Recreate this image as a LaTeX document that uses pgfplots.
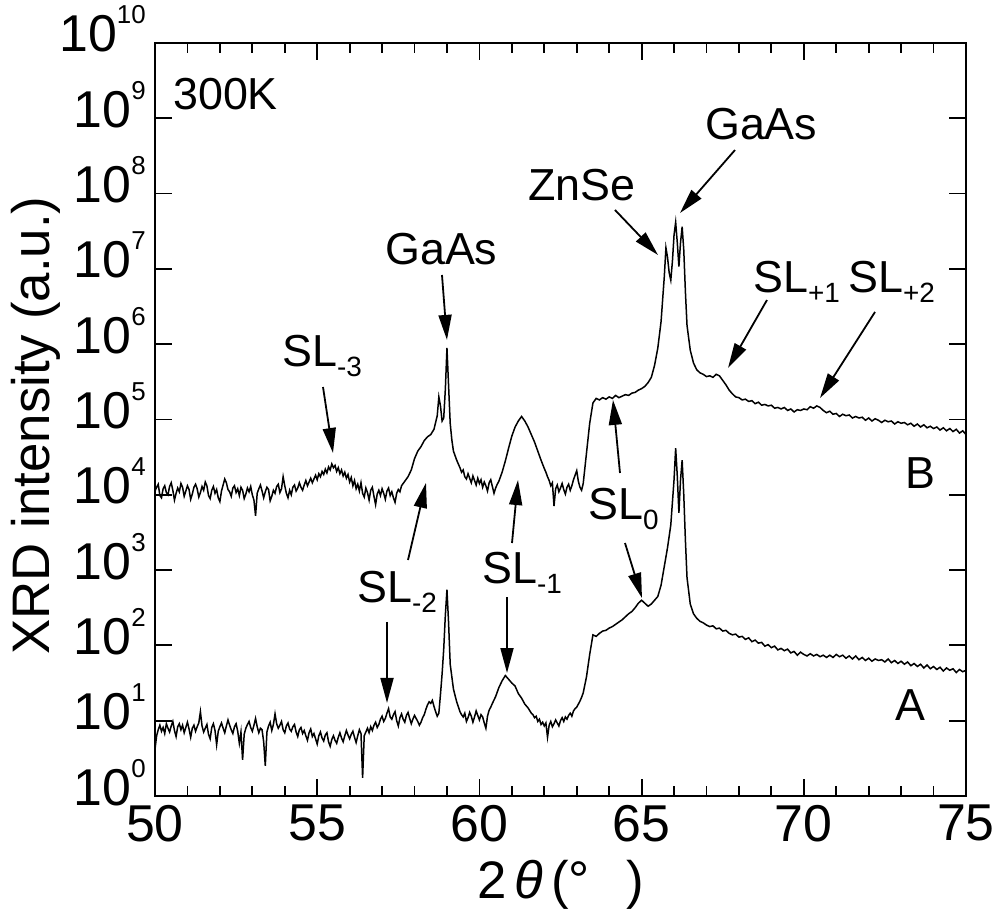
\documentclass[border=0pt]{standalone}
\usepackage{fontspec}
\setmainfont{Liberation Sans}
\usepackage{pgfplots}
\pgfplotsset{compat=1.18}
\usepackage{pgfplotstable}
\usetikzlibrary{arrows.meta}
\newcommand\tl[1]{10\raisebox{28bp}{\fontsize{26}{26}\selectfont #1}}
\newcommand\sub[1]{\raisebox{-10bp}{\fontsize{28}{28}\selectfont #1}}
\pgfplotstableread{
x l
50.00 4.05
50.05 4.10
50.10 4.14
50.15 3.99
50.20 3.96
50.25 4.08
50.30 4.12
50.35 4.03
50.40 4.00
50.45 4.11
50.50 4.16
50.55 4.06
50.60 3.93
50.65 4.02
50.70 4.09
50.75 4.04
50.80 4.15
50.85 4.10
50.90 3.98
50.95 4.05
51.00 4.12
51.05 4.07
51.10 3.94
51.15 4.01
51.20 4.10
51.25 4.14
51.30 4.08
51.35 3.97
51.40 4.03
51.45 4.11
51.50 4.06
51.55 4.17
51.60 4.12
51.65 3.99
51.70 3.95
51.75 4.06
51.80 4.11
51.85 4.02
51.90 4.07
51.95 3.96
52.00 3.91
52.05 4.05
52.10 4.13
52.15 4.21
52.20 4.16
52.25 4.07
52.30 4.04
52.35 3.98
52.40 4.09
52.45 4.12
52.50 4.03
52.55 4.08
52.60 3.99
52.65 4.10
52.70 4.06
52.75 3.95
52.80 4.01
52.85 4.09
52.90 4.04
52.95 4.11
53.00 4.00
53.05 3.93
53.10 3.72
53.15 4.02
53.20 4.08
53.25 4.13
53.30 4.05
53.35 3.96
53.40 4.04
53.45 4.10
53.50 4.07
53.55 3.92
53.60 3.98
53.65 4.06
53.70 4.02
53.75 4.11
53.80 4.14
53.85 4.03
53.90 4.08
53.95 4.24
54.00 4.12
54.05 4.02
54.10 3.96
54.15 4.06
54.20 4.00
54.25 4.10
54.30 4.13
54.35 4.05
54.40 4.09
54.45 4.16
54.50 4.10
54.55 4.06
54.60 4.13
54.65 4.19
54.70 4.12
54.75 4.17
54.80 4.22
54.85 4.16
54.90 4.21
54.95 4.26
55.00 4.20
55.05 4.28
55.10 4.24
55.15 4.31
55.20 4.27
55.25 4.34
55.30 4.29
55.35 4.37
55.40 4.33
55.45 4.41
55.50 4.36
55.55 4.39
55.60 4.31
55.65 4.36
55.70 4.28
55.75 4.33
55.80 4.25
55.85 4.30
55.90 4.22
55.95 4.27
56.00 4.17
56.05 4.23
56.10 4.12
56.15 4.19
56.20 4.08
56.25 4.14
56.30 4.05
56.35 4.16
56.40 4.02
56.45 3.97
56.50 4.09
56.55 4.03
56.60 3.93
56.65 4.06
56.70 4.10
56.75 3.98
56.80 3.87
56.85 4.01
56.90 4.06
56.95 3.99
57.00 4.08
57.05 4.02
57.10 3.94
57.15 4.05
57.20 4.09
57.25 3.99
57.30 4.04
57.35 3.96
57.40 3.90
57.45 4.02
57.50 4.07
57.55 4.04
57.60 4.12
57.7 4.18
57.8 4.24
57.9 4.33
58.0 4.48
58.1 4.58
58.2 4.64
58.3 4.72
58.4 4.77
58.5 4.80
58.6 4.87
58.7 5.05
58.75 5.30
58.8 5.18
58.85 4.98
58.9 5.02
58.95 5.40
59.0 5.95
59.05 5.45
59.1 4.95
59.15 4.73
59.2 4.58
59.3 4.46
59.40 4.36
59.45 4.30
59.50 4.33
59.55 4.24
59.60 4.21
59.65 4.28
59.70 4.22
59.75 4.16
59.80 4.25
59.85 4.19
59.90 4.13
59.95 4.22
60.00 4.15
60.05 4.20
60.10 4.10
60.15 4.17
60.20 4.12
60.25 4.05
60.30 4.16
60.35 4.20
60.40 4.11
60.45 4.02
60.50 4.09
60.55 4.14
60.60 4.18
60.7 4.30
60.8 4.45
60.9 4.62
61.0 4.78
61.1 4.90
61.2 4.98
61.3 5.04
61.4 4.98
61.5 4.90
61.6 4.80
61.7 4.70
61.8 4.58
61.9 4.46
62.00 4.35
62.05 4.30
62.10 4.24
62.15 4.19
62.20 4.12
62.25 4.16
62.30 3.85
62.35 4.08
62.40 4.13
62.45 4.04
62.50 4.09
62.55 4.15
62.60 4.07
62.65 4.01
62.70 4.10
62.75 4.14
62.80 4.06
62.85 4.12
62.90 4.20
62.95 4.26
63.00 4.32
63.05 4.18
63.10 4.10
63.15 4.06
63.20 4.15
63.3 4.55
63.4 4.95
63.5 5.22
63.6 5.28
63.7 5.26
63.8 5.29
63.9 5.27
64.0 5.30
64.1 5.28
64.2 5.32
64.3 5.29
64.4 5.31
64.5 5.33
64.6 5.32
64.7 5.35
64.8 5.36
64.9 5.39
65.0 5.41
65.1 5.44
65.2 5.49
65.3 5.56
65.4 5.72
65.5 5.95
65.6 6.30
65.7 6.90
65.75 7.28
65.8 7.15
65.85 6.95
65.9 6.85
65.95 7.10
66.0 7.45
66.05 7.62
66.1 7.35
66.15 7.03
66.2 7.35
66.25 7.56
66.3 7.25
66.35 6.70
66.4 6.25
66.5 5.92
66.6 5.75
66.7 5.66
66.8 5.62
66.9 5.60
67.0 5.57
67.1 5.58
67.2 5.56
67.3 5.60
67.4 5.58
67.5 5.52
67.6 5.46
67.7 5.39
67.8 5.34
67.9 5.30
68.0 5.29
68.1 5.26
68.2 5.27
68.3 5.24
68.4 5.25
68.5 5.21
68.6 5.23
68.7 5.19
68.8 5.20
68.9 5.18
69.0 5.19
69.1 5.15
69.2 5.16
69.3 5.14
69.4 5.16
69.5 5.12
69.6 5.14
69.7 5.10
69.8 5.13
69.9 5.12
70.0 5.14
70.1 5.13
70.2 5.17
70.3 5.15
70.4 5.18
70.5 5.16
70.6 5.12
70.7 5.09
70.8 5.11
70.9 5.07
71.0 5.08
71.1 5.04
71.2 5.07
71.3 5.05
71.4 5.06
71.5 5.02
71.6 5.04
71.7 5.02
71.8 5.03
71.9 4.99
72.0 5.02
72.1 4.98
72.2 5.01
72.3 4.99
72.4 4.96
72.5 4.99
72.6 4.97
72.7 4.98
72.8 4.94
72.9 4.97
73.0 4.95
73.1 4.96
73.2 4.93
73.3 4.95
73.4 4.91
73.5 4.94
73.6 4.90
73.7 4.93
73.8 4.89
73.9 4.91
74.0 4.88
74.1 4.90
74.2 4.86
74.3 4.89
74.4 4.85
74.5 4.88
74.6 4.84
74.7 4.87
74.8 4.82
74.9 4.85
75.0 4.80
}\dataB
\pgfplotstableread{
x l
50.00 0.62
50.05 0.80
50.10 0.88
50.15 0.94
50.20 0.86
50.25 0.91
50.30 0.83
50.35 0.96
50.40 0.90
50.45 0.85
50.50 0.93
50.55 0.99
50.60 0.87
50.65 0.79
50.70 0.92
50.75 0.96
50.80 0.88
50.85 0.94
50.90 0.84
50.95 0.91
51.00 0.98
51.05 0.89
51.10 0.78
51.15 0.90
51.20 0.94
51.25 0.86
51.30 0.92
51.35 0.97
51.40 1.12
51.45 0.93
51.50 0.85
51.55 0.90
51.60 0.95
51.65 0.82
51.70 0.76
51.75 0.91
51.80 0.96
51.85 0.87
51.90 0.68
51.95 0.86
52.00 0.92
52.05 0.97
52.10 0.90
52.15 0.84
52.20 0.93
52.25 1.01
52.30 0.94
52.35 0.88
52.40 0.83
52.45 0.92
52.50 0.96
52.55 0.86
52.60 0.70
52.65 0.85
52.70 0.48
52.75 0.82
52.80 0.90
52.85 0.95
52.90 0.99
52.95 0.91
53.00 0.86
53.05 0.94
53.10 1.03
53.15 0.92
53.20 0.84
53.25 0.90
53.30 0.88
53.35 0.72
53.40 0.40
53.45 0.85
53.50 0.93
53.55 0.98
53.60 0.87
53.65 0.95
53.70 1.09
53.75 0.96
53.80 0.90
53.85 0.94
53.90 0.99
53.95 0.88
54.00 0.84
54.05 0.93
54.10 0.97
54.15 0.89
54.20 0.86
54.25 0.92
54.30 0.95
54.35 0.85
54.40 0.79
54.45 0.88
54.50 0.91
54.55 0.83
54.60 0.87
54.65 0.80
54.70 0.74
54.75 0.84
54.80 0.89
54.85 0.79
54.90 0.83
54.95 0.76
55.00 0.69
55.05 0.80
55.10 0.85
55.15 0.77
55.20 0.73
55.25 0.81
55.30 0.84
55.35 0.72
55.40 0.66
55.45 0.75
55.50 0.80
55.55 0.74
55.60 0.70
55.65 0.78
55.70 0.84
55.75 0.77
55.80 0.72
55.85 0.80
55.90 0.87
55.95 0.81
56.00 0.76
56.05 0.82
56.10 0.86
56.15 0.78
56.20 0.71
56.25 0.80
56.30 0.88
56.35 0.83
56.40 0.24
56.45 0.80
56.50 0.85
56.55 0.90
56.60 0.84
56.65 0.92
56.70 0.87
56.75 0.94
56.80 0.98
56.85 0.91
56.90 0.95
56.95 1.02
57.00 1.06
57.05 0.99
57.10 1.03
57.15 1.10
57.20 1.16
57.25 1.05
57.30 1.02
57.35 1.08
57.40 1.12
57.45 1.00
57.50 0.93
57.55 1.04
57.60 1.09
57.65 1.02
57.70 0.98
57.75 1.07
57.80 1.11
57.85 1.03
57.90 0.96
57.95 1.02
58.00 1.07
58.05 1.03
58.10 0.99
58.15 0.94
58.20 0.98
58.25 1.04
58.30 1.08
58.35 1.15
58.40 1.21
58.45 1.25
58.50 1.23
58.55 1.27
58.60 1.19
58.65 1.12
58.70 1.06
58.75 1.10
58.80 1.35
58.85 1.62
58.90 1.95
58.95 2.40
59.00 2.74
59.05 2.30
59.10 1.75
59.20 1.42
59.30 1.25
59.40 1.12
59.45 1.08
59.50 1.05
59.55 1.10
59.60 0.99
59.65 1.04
59.70 1.11
59.75 1.06
59.80 0.98
59.85 1.05
59.90 1.13
59.95 1.07
60.00 1.01
60.05 1.08
60.10 1.05
60.15 0.97
60.20 0.90
60.25 1.06
60.30 1.14
60.35 1.18
60.40 1.23
60.5 1.32
60.6 1.44
60.7 1.53
60.8 1.60
60.9 1.55
61.0 1.50
61.1 1.46
61.2 1.36
61.3 1.30
61.4 1.22
61.5 1.17
61.60 1.10
61.65 1.08
61.70 1.04
61.75 1.06
61.80 0.99
61.85 1.02
61.90 0.95
61.95 0.98
62.00 0.93
62.05 0.97
62.10 0.78
62.15 0.94
62.20 0.99
62.25 0.92
62.30 0.96
62.35 1.01
62.40 0.97
62.45 0.93
62.50 1.00
62.55 1.04
62.60 0.99
62.65 1.05
62.70 1.02
62.75 1.07
62.80 1.10
62.85 1.06
62.90 1.13
62.95 1.16
63.00 1.18
63.05 1.22
63.10 1.26
63.15 1.31
63.20 1.37
63.3 1.58
63.4 1.88
63.5 2.14
63.6 2.12
63.7 2.16
63.8 2.19
63.9 2.20
64.0 2.23
64.1 2.25
64.2 2.28
64.3 2.31
64.4 2.34
64.5 2.38
64.6 2.42
64.7 2.45
64.8 2.50
64.9 2.56
65.0 2.60
65.1 2.56
65.2 2.52
65.3 2.55
65.4 2.60
65.5 2.65
65.6 2.80
65.7 3.05
65.8 3.30
65.9 3.60
66.0 4.20
66.05 4.62
66.1 4.25
66.15 3.76
66.2 4.20
66.25 4.46
66.3 4.00
66.35 3.40
66.4 2.90
66.5 2.55
66.6 2.42
66.7 2.36
66.8 2.32
66.9 2.30
67.0 2.27
67.1 2.25
67.2 2.26
67.3 2.22
67.4 2.23
67.5 2.19
67.6 2.20
67.7 2.16
67.8 2.14
67.9 2.15
68.0 2.11
68.1 2.12
68.2 2.08
68.3 2.10
68.4 2.05
68.5 2.07
68.6 2.03
68.7 2.04
68.8 1.99
68.9 2.01
69.0 1.97
69.1 1.99
69.2 1.94
69.3 1.96
69.4 1.93
69.5 1.95
69.6 1.90
69.7 1.92
69.8 1.87
69.9 1.91
70.0 1.88
70.1 1.86
70.2 1.89
70.3 1.86
70.4 1.88
70.5 1.85
70.6 1.87
70.7 1.84
70.8 1.87
70.9 1.84
71.0 1.88
71.1 1.85
71.2 1.87
71.3 1.83
71.4 1.86
71.5 1.82
71.6 1.86
71.7 1.81
71.8 1.84
71.9 1.80
72.0 1.83
72.1 1.79
72.2 1.82
72.3 1.80
72.4 1.81
72.5 1.78
72.6 1.82
72.7 1.77
72.8 1.80
72.9 1.76
73.0 1.79
73.1 1.75
73.2 1.78
73.3 1.73
73.4 1.76
73.5 1.72
73.6 1.75
73.7 1.70
73.8 1.74
73.9 1.69
74.0 1.72
74.1 1.68
74.2 1.71
74.3 1.66
74.4 1.70
74.5 1.67
74.6 1.69
74.7 1.64
74.8 1.68
74.9 1.65
75.0 1.67
}\dataA
\begin{document}
\begin{tikzpicture}[
  arr/.style={line width=1.8bp, -{Triangle[length=25bp,width=13bp]}},
  lab/.style={inner sep=0pt, anchor=base west, font=\fontsize{45}{45}\selectfont}]
\begin{axis}[
  width=811bp, height=753bp, scale only axis,
  xmin=50, xmax=75, ymode=log, ymin=1, ymax=1e10,
  xtick={50,55,60,65,70,75}, xticklabels={50,55,60,65,70,75},
  minor x tick num=4,
  ytick={1,1e1,1e2,1e3,1e4,1e5,1e6,1e7,1e8,1e9,1e10},
  yticklabels={\tl{0},\tl{1},\tl{2},\tl{3},\tl{4},\tl{5},\tl{6},\tl{7},\tl{8},\tl{9},\tl{10}},
  yminorticks=false,
  tick align=inside,
  major tick length=17bp, minor tick length=10bp,
  every tick/.append style={line width=1.8bp, black},
  axis line style={line width=2bp},
  xticklabel style={font=\fontsize{52}{52}\selectfont, inner sep=0pt, anchor=north, yshift=-9bp},
  yticklabel style={font=\fontsize{52}{52}\selectfont, inner sep=0pt, anchor=base east, xshift=-9bp, yshift=-9bp},
  xlabel={2\hspace{8bp}{\itshape θ}\hspace{8bp}(°\hspace{36bp})},
  xlabel style={font=\fontsize{53}{53}\selectfont, at={(axis description cs:0.5,0)}, anchor=base, inner sep=0pt, yshift=-102bp},
  ylabel={XRD intensity (a.u.)},
  ylabel style={font=\fontsize{53}{53}\selectfont, at={(axis description cs:0,0.5)}, anchor=base, inner sep=0pt, yshift=105bp, xshift=-6bp},
]
\addplot[black, line width=1.5bp] table[x=x, y expr=10^\thisrow{l}] {\dataB};
\addplot[black, line width=1.5bp] table[x=x, y expr=10^\thisrow{l}] {\dataA};
\coordinate (sw) at (rel axis cs:0,0);
\coordinate (ne) at (rel axis cs:1,1);
\node[lab] at (axis cs:50.555,1.29e9) {300K};
\node[lab] at (axis cs:57.09,1.13e7) {GaAs};
\draw[arr] (axis cs:58.847,8.3e6) -- (axis cs:59.0,1.14e6);
\node[lab] at (axis cs:61.50,8.22e7) {ZnSe};
\draw[arr] (axis cs:64.18,6.06e7) -- (axis cs:65.505,1.53e7);
\node[lab] at (axis cs:66.954,5.15e8) {GaAs};
\draw[arr] (axis cs:67.879,3.79e8) -- (axis cs:66.184,5.52e7);
\node[lab] at (axis cs:53.915,4.98e5) {SL\sub{-3}};
\draw[arr] (axis cs:55.179,2.70e5) -- (axis cs:55.487,3.59e4);
\node[lab] at (axis cs:56.227,3.77e2) {SL\sub{-2}};
\draw[arr] (axis cs:57.152,2.05e2) -- (axis cs:57.152,17.2);
\draw[arr] (axis cs:57.799,1.36e3) -- (axis cs:58.354,1.44e4);
\node[lab] at (axis cs:60.08,6.74e2) {SL\sub{-1}};
\draw[arr] (axis cs:60.851,4.39e2) -- (axis cs:60.851,43);
\draw[arr] (axis cs:61.005,2.29e3) -- (axis cs:61.19,1.57e4);
\node[lab] at (axis cs:63.348,4.63e3) {SL\sub{0}};
\draw[arr] (axis cs:64.334,1.95e4) -- (axis cs:64.118,1.82e5);
\draw[arr] (axis cs:64.488,2.29e3) -- (axis cs:65.012,4.26e2);
\node[lab] at (axis cs:68.434,4.79e6) {SL\sub{+1}};
\node[lab] at (axis cs:71.362,4.79e6) {SL\sub{+2}};
\draw[arr] (axis cs:68.865,3.86e6) -- (axis cs:67.664,4.83e5);
\draw[arr] (axis cs:72.195,2.68e6) -- (axis cs:70.5,1.93e5);
\node[lab] at (axis cs:73.12,1.23e4) {B};
\node[lab] at (axis cs:72.81,10.2) {A};
\end{axis}
\pgfresetboundingbox
\path[use as bounding box] ([shift={(-155bp,-115bp)}]sw) rectangle ([shift={(30bp,43bp)}]ne);
\end{tikzpicture}
\end{document}
